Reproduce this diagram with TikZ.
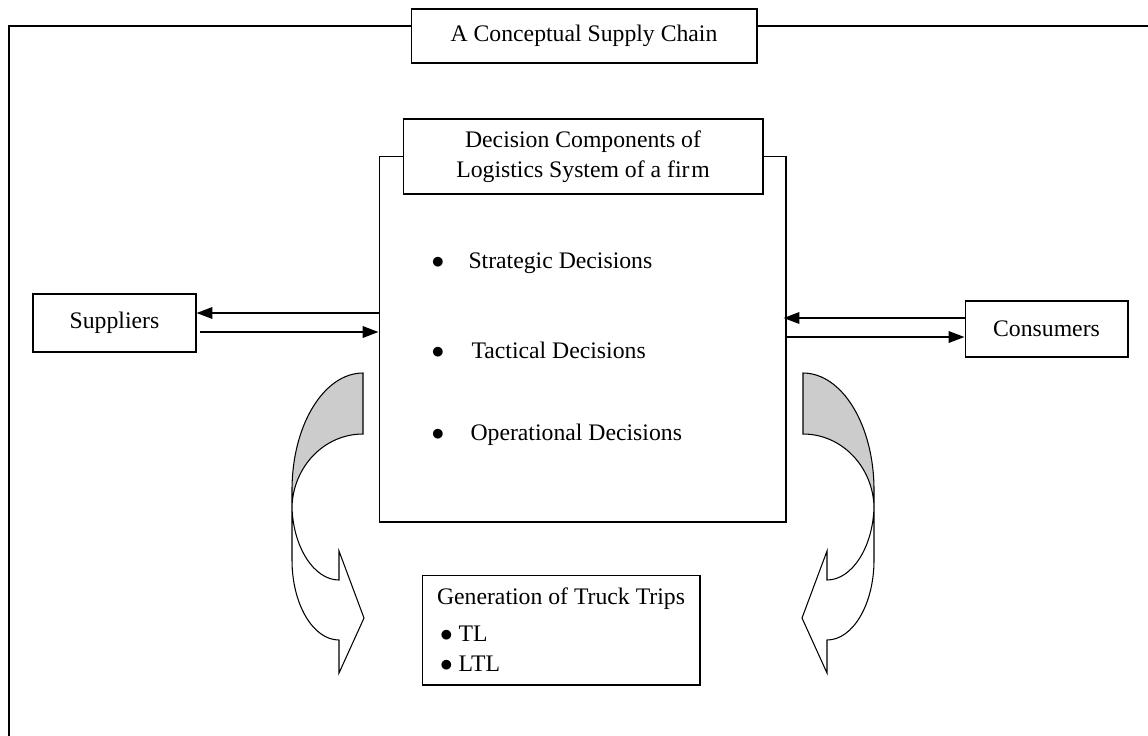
\documentclass[tikz,border=0pt]{standalone}
\usepackage{fontspec}
\setmainfont{Liberation Serif}
\usetikzlibrary{arrows.meta,positioning,calc}

\begin{document}
\begin{tikzpicture}[x=0.02cm, y=-0.02cm, semithick, >={Triangle[length=9pt,width=6.5pt]},
  font=\fontsize{13.5}{17}\selectfont]
\tikzstyle{box}=[draw=black, fill=white, inner sep=0pt]
\tikzstyle{item}=[inner sep=0pt]
\tikzstyle{flow}=[->, line width=1.1pt]
\tikzstyle{turn}=[draw=black, semithick, line join=miter]
\useasboundingbox (0,0) rectangle (1148,735);

% outer frame with its title
\draw (1152,26) -- (9,26) -- (9,740);
\node[box, minimum width=6.92cm, minimum height=1.08cm] (title) at (584,36) {A Conceptual Supply Chain};

% the firm and its decisions
\node[box, minimum width=8.14cm, minimum height=7.32cm] (firm) at (582.5,339) {};
\node[box, minimum width=7.2cm, minimum height=1.5cm, align=center] (head) at (583,156.5)
  {Decision Components of\\ Logistics System of a fir\kern1pt m};
\node[item, anchor=west] (strat) at (431,263) {\makebox[0.74cm][l]{$\bullet$}Strategic Decisions};
\node[item, below=1.74cm of strat.west, anchor=west] (tact) {\makebox[0.8cm][l]{$\bullet$}Tactical Decisions};
\node[item, below=1.70cm of tact.west, anchor=west] (oper) {\makebox[0.78cm][l]{$\bullet$}Operational Decisions};

% partners
\node[box, minimum width=3.26cm, minimum height=1.16cm] (sup) at (114.5,323) {Suppliers};
\node[box, minimum width=3.26cm, minimum height=1.12cm] (con) at (1046.5,329) {Consumers};

\draw[flow] ($(sup.east -| firm.west)+(0,-10)$) -- ($(sup.east)+(0,-10)$);
\draw[flow] ($(sup.east)+(3,9)$) -- ($(sup.east -| firm.west)+(0,9)$);
\draw[flow] ($(con.west)+(0,-11)$) -- ($(con.west -| firm.east)+(-3,-11)$);
\draw[flow] ($(con.west -| firm.east)+(0,8)$) -- ($(con.west)+(0,8)$);

% truck trips
\node[box, minimum width=5.56cm, minimum height=2.2cm, align=left] (trips) at (561,630)
  {Generation of Truck Trips\\[4pt]
   \hspace*{0.06cm}$\bullet$\hspace{0.12cm}TL\\
   \hspace*{0.06cm}$\bullet$\hspace{0.12cm}LTL};

% curved arrows down to the trips
\filldraw[turn, fill=black!20] (363,373) .. controls (324,373) and (292,425) .. (292,490) -- (292,507)
  .. controls (293,467) and (324,434) .. (363,434) -- cycle;
\filldraw[turn, fill=white] (292,507) .. controls (293,547) and (314,580) .. (339,580) -- (339,551)
  -- (364,618) -- (339,673) -- (339,640) .. controls (313,640) and (292,604) .. (292,560) -- cycle;
\begin{scope}[shift={(1166,0)}, xscale=-1]
\filldraw[turn, fill=black!20] (363,373) .. controls (324,373) and (292,425) .. (292,490) -- (292,507)
  .. controls (293,467) and (324,434) .. (363,434) -- cycle;
\filldraw[turn, fill=white] (292,507) .. controls (293,547) and (314,580) .. (339,580) -- (339,551)
  -- (364,618) -- (339,673) -- (339,640) .. controls (313,640) and (292,604) .. (292,560) -- cycle;
\end{scope}
\end{tikzpicture}
\end{document}
